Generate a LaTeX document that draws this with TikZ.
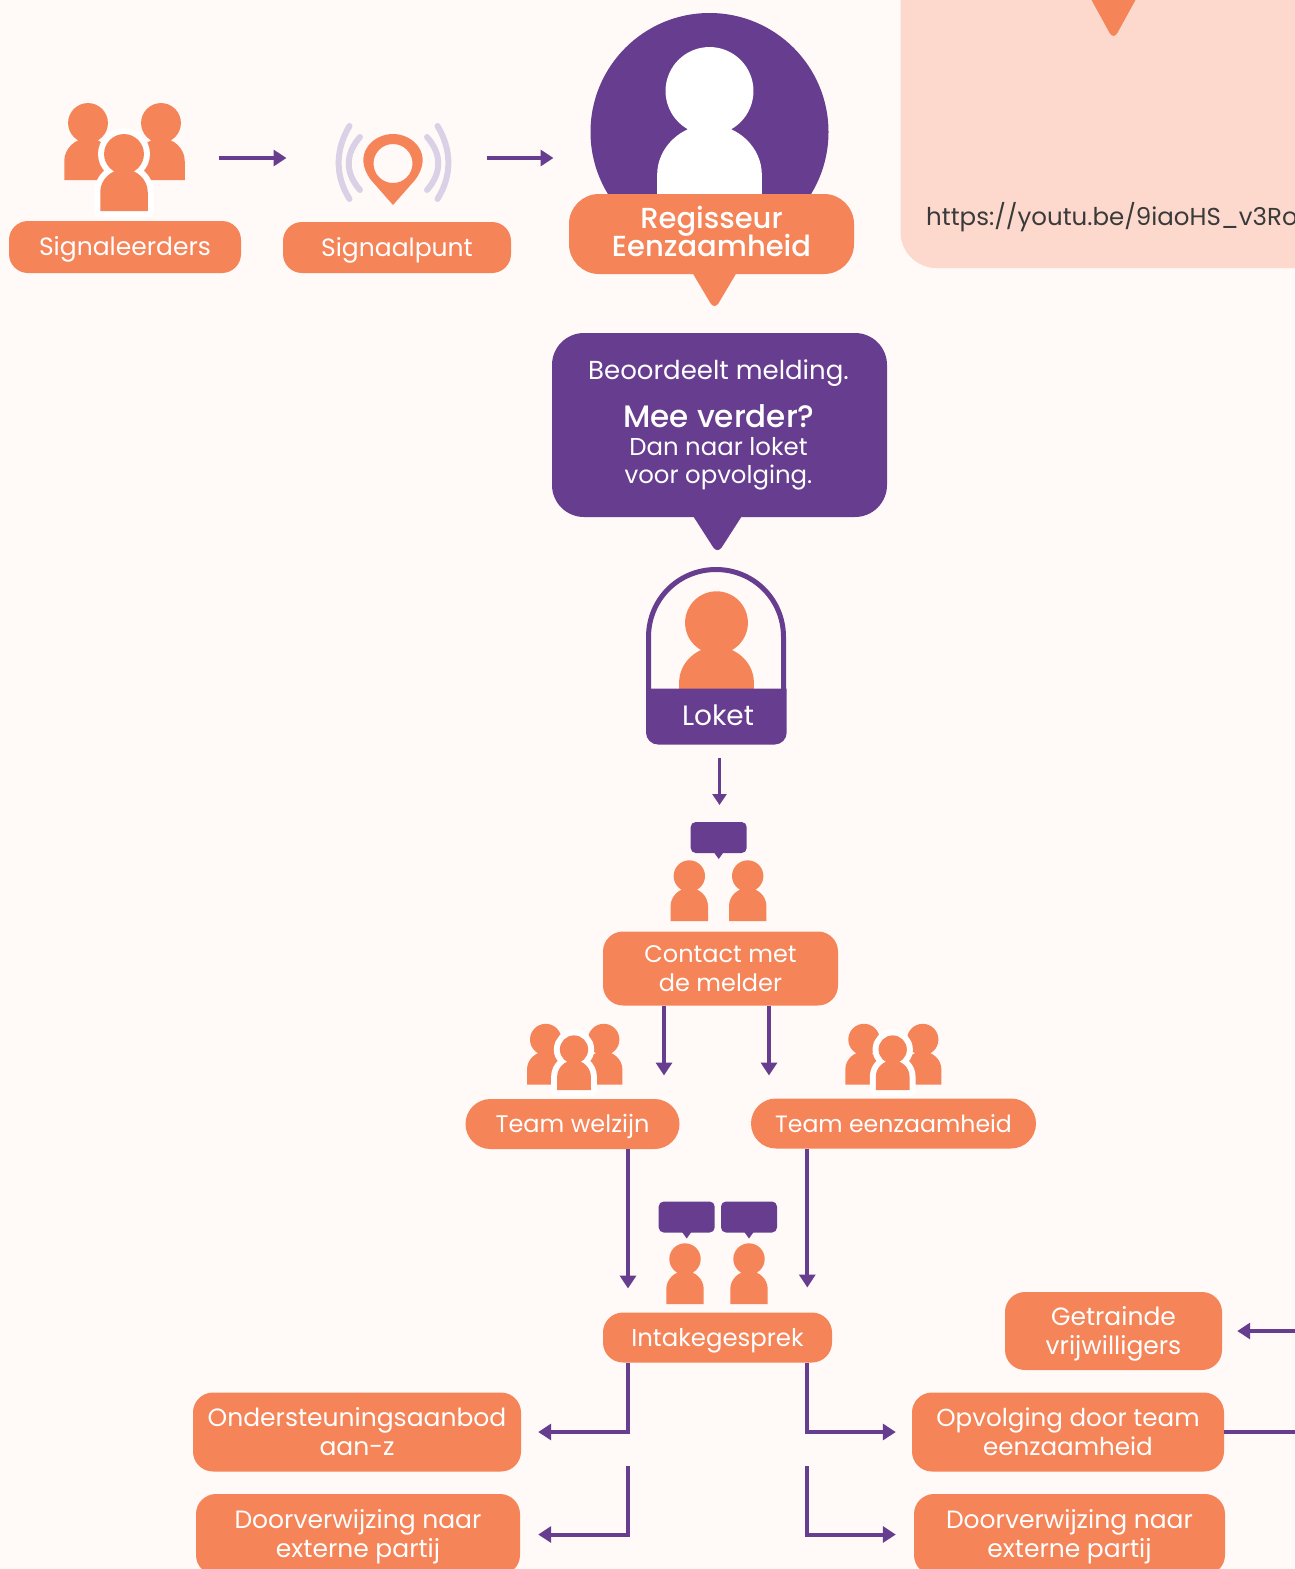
\documentclass[tikz,border=0pt]{standalone}
\usepackage{fontspec}
\setmainfont{Poppins}
\newfontfamily\medfont{Poppins Medium}
\usetikzlibrary{arrows.meta}
\definecolor{bgcream}{HTML}{FFFAF7}
\definecolor{orangefill}{HTML}{F58459}
\definecolor{purplefill}{HTML}{673D8F}
\definecolor{peachfill}{HTML}{FDD9CD}
\definecolor{lavender}{HTML}{D9D2E7}
\definecolor{urlgrey}{HTML}{3A3A3A}
\tikzset{
    pill/.style={fill=orangefill, text=white, align=center, inner sep=0pt, rounded corners=#1},
    pill/.default=20pt,
    flow/.style={draw=purplefill, line width=4pt, -{Triangle[length=13pt,width=16pt]}},
    figure/.style={fill=orangefill},
    halo/.style={fill=white, draw=white, line width=12pt, line join=round},
    hollow/.style={fill=white},
    wave/.style={draw=lavender, line width=6pt, line cap=round}
}
\newcommand{\person}[4]{
    \path[#4, shift={(#1,#2)}, scale=#3] (0,0) circle (15.7)
        (-18.7,45) -- (-18.7,30) .. controls (-18.7,20) and (-10,12) .. (0,12)
        .. controls (10,12) and (18.7,20) .. (18.7,30) -- (18.7,45) -- cycle;
}
\newcommand{\speech}[2]{
    \fill[purplefill, rounded corners=5pt] (#1-28,#2) rectangle (#1+28,#2+31);
    \fill[purplefill] (#1-5,#2+30) -- (#1,#2+37) -- (#1+5,#2+30) -- cycle;
}
\newcommand{\nodip}[2][0pt]{\raisebox{0pt}[\height][#1]{#2}}
\begin{document}
\begin{tikzpicture}[x=1pt, y=-1pt]
    \useasboundingbox (0,0) rectangle (1295,1569);
    \clip (0,0) rectangle (1295,1569);
    \fill[bgcream] (0,0) rectangle (1295,1569);

    \fill[peachfill, rounded corners=36pt] (900.5,-60) rectangle (1360,268);
    \fill[orangefill, rounded corners=8pt] (1086,-10) -- (1113.5,40) -- (1141,-10) -- cycle;
    \node[anchor=west, text=urlgrey, font=\fontsize{24.5}{28}\selectfont, inner sep=0pt] (url) at (926,217) {https://youtu.be/9iaoHS\_v3Ro};

    \person{88}{123}{1.27}{figure}
    \person{161}{123}{1.27}{figure}
    \person{124}{154}{1.27}{halo}
    \person{124}{154}{1.27}{figure}
    \node[pill=19pt, minimum width=232pt, minimum height=52pt, font=\fontsize{25}{29}\selectfont] (signaleerders) at (125,247) {\nodip[2pt]{Signaleerders}};

    \draw[wave] (349.5,126) .. controls (335,150) and (335,176) .. (349.5,199);
    \draw[wave] (360,137) .. controls (345,154) and (345,173) .. (360,190);
    \draw[wave] (437.5,126) .. controls (452,150) and (452,176) .. (437.5,199);
    \draw[wave] (427,137) .. controls (442,154) and (442,173) .. (427,190);
    \fill[orangefill, even odd rule] (393,205) -- (371,180) .. controls (352,155) and (372,134) .. (393,134)
        .. controls (414,134) and (434,155) .. (415,180) -- cycle
        (393,163.5) circle (19.5);
    \node[pill=19pt, minimum width=228pt, minimum height=51pt, font=\fontsize{25}{29}\selectfont] (signaalpunt) at (397,247.5) {\nodip[2pt]{Signaalpunt}};

    \coordinate (punt_from) at (218.5,158);
    \coordinate (punt_to) at (286.5,158);
    \coordinate (regie_from) at (486.5,158);
    \coordinate (regie_to) at (553.5,158);
    \draw[flow] (punt_from) -- (punt_to);
    \draw[flow] (regie_from) -- (regie_to);

    \fill[purplefill] (709.5,132) circle (119);
    \person{709.5}{91}{2.8}{hollow}
    \fill[orangefill, rounded corners=8pt] (686,262) -- (714.5,310) -- (743,262) -- cycle;
    \node[pill=30pt, minimum width=285pt, minimum height=80pt, font=\medfont\fontsize{29}{28}\selectfont] (regisseur) at (711.5,234) {Regisseur\\[-3pt]Eenzaamheid\rule[-5pt]{0pt}{0pt}};

    \fill[purplefill, rounded corners=8pt] (686,505) -- (717.5,554) -- (749,505) -- cycle;
    \node[pill=32pt, fill=purplefill, minimum width=335pt, minimum height=184pt] (beoordeling) at (719.5,425) {};
    \node[text=white, font=\fontsize{26}{30}\selectfont, inner sep=0pt] (melding) at (718.5,373) {Beoordeelt melding.};
    \node[text=white, font=\medfont\fontsize{31}{35}\selectfont, inner sep=0pt] (verder) at (719,416) {Mee verder?};
    \node[text=white, align=center, font=\fontsize{24.4}{28}\selectfont, inner sep=0pt] (opvolging) at (718.5,464) {Dan naar loket\\voor opvolging.};

    \person{716.5}{622.7}{2}{figure}
    \fill[purplefill] (646,688.5) -- (786.7,688.5) [rounded corners=12pt] -- (786.7,744.5) -- (646,744.5) [sharp corners] -- cycle;
    \draw[purplefill, line width=5pt] (648.5,690) -- (648.5,637) .. controls (648.5,599.4) and (678.4,569.5) .. (716,569.5)
        .. controls (753.6,569.5) and (783.5,599.4) .. (783.5,637) -- (783.5,690);
    \node[text=white, font=\fontsize{28}{30}\selectfont, inner sep=0pt] (loket) at (718,715.5) {Loket};

    \coordinate (loket_from) at (719.5,758);
    \coordinate (loket_to) at (719.5,805);
    \draw[flow, line width=3.4pt, -{Triangle[length=11pt,width=14pt]}] (loket_from) -- (loket_to);

    \speech{718.7}{822}
    \person{689.3}{876}{1}{figure}
    \person{747.7}{876}{1}{figure}
    \node[pill=20pt, minimum width=235pt, minimum height=74pt, font=\fontsize{24}{29}\selectfont] (contact) at (720.5,968.5) {Contact met\\de melder};

    \coordinate (welzijn_to) at (664,1075.5);
    \coordinate (eenzaam_to) at (769,1075.5);
    \draw[flow] (contact.south -| welzijn_to) -- (welzijn_to);
    \draw[flow] (contact.south -| eenzaam_to) -- (eenzaam_to);

    \person{545.7}{1039.5}{1}{figure}
    \person{603.7}{1039.5}{1}{figure}
    \person{574}{1049.5}{0.9}{halo}
    \person{574}{1049.5}{0.9}{figure}
    \node[pill=25pt, minimum width=214pt, minimum height=50pt, font=\fontsize{24}{28}\selectfont] (welzijn) at (572.5,1124) {\nodip[2pt]{Team welzijn}};

    \person{864}{1039.5}{1}{figure}
    \person{922.7}{1039.5}{1}{figure}
    \person{892.7}{1049.5}{0.9}{halo}
    \person{892.7}{1049.5}{0.9}{figure}
    \node[pill=25pt, minimum width=285pt, minimum height=50pt, font=\fontsize{23.6}{28}\selectfont] (eenzaamheid) at (893.5,1123.5) {\nodip{Team eenzaamheid}};

    \coordinate (intake_left) at (628,1288.5);
    \coordinate (intake_right) at (807.3,1287.5);
    \draw[flow] (welzijn.south -| intake_left) -- (intake_left);
    \draw[flow] (eenzaamheid.south -| intake_right) -- (intake_right);

    \speech{686.7}{1201.5}
    \speech{749}{1201.5}
    \person{685}{1259}{1}{figure}
    \person{749}{1259}{1}{figure}
    \node[pill=20pt, minimum width=229pt, minimum height=50pt, font=\fontsize{24.4}{28}\selectfont] (intake) at (717.5,1337.5) {\nodip{Intakegesprek}};

    \node[pill=20pt, minimum width=217pt, minimum height=78pt, font=\fontsize{25}{29}\selectfont] (vrijwilligers) at (1113.5,1331) {Getrainde\\\nodip[1pt]{vrijwilligers}};
    \node[pill=20pt, minimum width=328pt, minimum height=79pt, font=\fontsize{25}{29}\selectfont] (aanbod) at (357,1432) {Ondersteuningsaanbod\\aan-z};
    \node[pill=20pt, minimum width=312pt, minimum height=79pt, font=\fontsize{24.6}{29}\selectfont] (team) at (1068,1432) {Opvolging door team\\eenzaamheid};
    \node[pill=20pt, minimum width=324pt, minimum height=81pt, font=\fontsize{25}{29}\selectfont] (externleft) at (358,1534.5) {Doorverwijzing naar\\\nodip[2pt]{externe partij}};
    \node[pill=20pt, minimum width=311pt, minimum height=81pt, font=\fontsize{25}{29}\selectfont] (externright) at (1069.5,1534.5) {Doorverwijzing naar\\\nodip[2pt]{externe partij}};

    \coordinate (left_from) at (627.5,1466);
    \coordinate (right_from) at (806.5,1466);
    \coordinate (right_out) at (1300,1432);
    \coordinate (right_in) at (1300,1331);
    \draw[flow, shorten >=17pt] (intake.south -| intake_left) |- (aanbod.east);
    \draw[flow, shorten >=16pt] (intake.south -| right_from) |- (team.west);
    \draw[flow, shorten >=18pt] (left_from) |- (externleft.east);
    \draw[flow, shorten >=18pt] (right_from) |- (externright.west);
    \draw[flow, -] (team.east) -- (right_out);
    \draw[flow, shorten >=15pt] (right_in) -- (vrijwilligers.east);
\end{tikzpicture}
\end{document}
